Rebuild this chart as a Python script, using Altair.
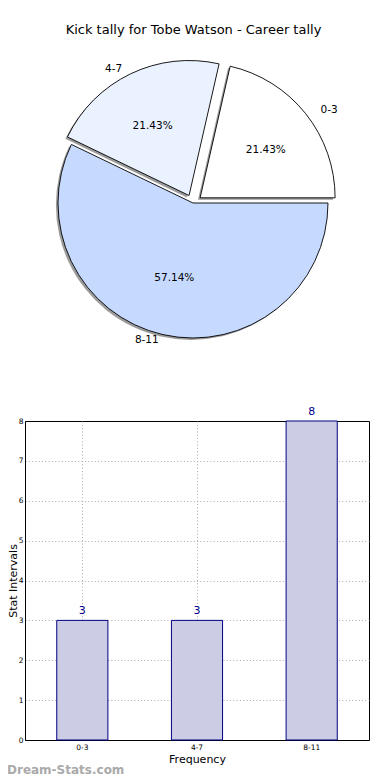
import math
import altair as alt
import pandas as pd

# ---- data ----
categories = ["0-3", "4-7", "8-11"]
counts = [3, 3, 8]
title_text = "Kick tally for Tobe Watson - Career tally"
watermark = ["Dream-Stats.com"]

# ---- style ----
explode = [0.065, 0.065, 0.0]
pie_colors = ["#FFFFFF", "#EBF2FF", "#C6DAFF"]
FONT = "DejaVu Sans"

total = sum(counts)
rows = []
cum = 0
for c, v, e in zip(categories, counts, explode):
    start, end = cum, cum + v
    cum = end
    mid = 2 * math.pi * (start + end) / 2 / total
    cx, cy = e * math.cos(mid), e * math.sin(mid)
    rows.append(dict(
        cat=c, value=v, start=start, end=end,
        cx=cx, cy=cy, sx=cx - 0.015, sy=cy - 0.015,
        lx=cx + 1.1 * math.cos(mid), ly=cy + 1.1 * math.sin(mid),
        px=cx + 0.6 * math.cos(mid), py=cy + 0.6 * math.sin(mid),
        pct=f"{100 * v / total:.2f}%",
        side="left" if math.cos(mid) > 0 else "right",
    ))
pie_df = pd.DataFrame(rows)

PLOT_LEFT = 26  # page x of the plot areas' left edge
PIE_W, PIE_H = 346, 310
xs = alt.Scale(domain=[-(194 - PLOT_LEFT) / 140, (PLOT_LEFT + PIE_W - 194) / 140], nice=False, zero=False)
ys = alt.Scale(domain=[-1.1484, 1.2734], nice=False, zero=False)
ts = alt.Scale(domain=[0, total], range=[math.pi / 2, math.pi / 2 - 2 * math.pi])

base = alt.Chart(pie_df)
theta = alt.Theta("start:Q", scale=ts)
shadow = base.mark_arc(radius=135, color="#7a7a7a", opacity=0.75).encode(
    x=alt.X("sx:Q", scale=xs, axis=None),
    y=alt.Y("sy:Q", scale=ys, axis=None),
    theta=theta, theta2="end:Q",
)
slices = base.mark_arc(radius=135, stroke="black", strokeWidth=0.9).encode(
    x=alt.X("cx:Q", scale=xs, axis=None),
    y=alt.Y("cy:Q", scale=ys, axis=None),
    theta=theta, theta2="end:Q",
    color=alt.Color("cat:N", scale=alt.Scale(domain=categories, range=pie_colors), legend=None),
)
lab_l = base.transform_filter(alt.datum.side == "left").mark_text(
    align="left", baseline="middle", fontSize=10.5, font=FONT, color="black"
).encode(x=alt.X("lx:Q", scale=xs, axis=None), y=alt.Y("ly:Q", scale=ys, axis=None), text="cat:N")
lab_r = base.transform_filter(alt.datum.side == "right").mark_text(
    align="right", baseline="middle", fontSize=10.5, font=FONT, color="black"
).encode(x=alt.X("lx:Q", scale=xs, axis=None), y=alt.Y("ly:Q", scale=ys, axis=None), text="cat:N")
pcts = base.mark_text(align="center", baseline="middle", fontSize=10.5, font=FONT, color="black").encode(
    x=alt.X("px:Q", scale=xs, axis=None), y=alt.Y("py:Q", scale=ys, axis=None), text="pct:N"
)

pie = alt.layer(shadow, slices, lab_l, lab_r, pcts).properties(
    width=PIE_W, height=PIE_H,
    title=alt.TitleParams(title_text, fontSize=13, font=FONT, fontWeight="normal",
                          anchor="middle", baseline="bottom", offset=-10,
                          dx=194.5 - (PLOT_LEFT + PIE_W / 2), color="black"),
)

# ---- bar chart ----
BAR_W, BAR_H = 370 - PLOT_LEFT, 319
bar_df = pd.DataFrame({"cat": categories, "count": counts})
xenc = alt.X("cat:N", sort=categories,
             scale=alt.Scale(paddingInner=0.554, paddingOuter=0.277),
             axis=alt.Axis(title="Frequency", labelAngle=0, grid=True, ticks=False,
                           labelFontSize=7.5, labelPadding=3, titleFontSize=11,
                           titlePadding=3, titleFontWeight="normal"))
yenc = alt.Y("count:Q", scale=alt.Scale(domain=[0, max(counts)], nice=False),
             axis=alt.Axis(title="Stat Intervals", values=list(range(max(counts) + 1)),
                           grid=True, ticks=False, labelFontSize=7.5, labelPadding=2,
                           labelOverlap=False, titleFontSize=11, titlePadding=0,
                           titleFontWeight="normal",
                           gridOpacity={"condition": {"test": f"datum.value >= {max(counts)}", "value": 0},
                                        "value": 1}))
bars = alt.Chart(bar_df).mark_bar(fill="#CCCCE5", stroke="#000080", strokeWidth=1).encode(x=xenc, y=yenc)
vals = alt.Chart(bar_df).mark_text(dy=-9, color="#00008B", fontSize=11, font=FONT).encode(
    x=xenc, y=yenc, text="count:Q"
)
wm = alt.Chart(pd.DataFrame({"t": watermark})).mark_text(
    align="left", baseline="middle", fontSize=12, font=FONT, fontWeight="bold", color="#aaaaaa"
).encode(x=alt.value(-18), y=alt.value(BAR_H + 30), text="t:N")

barchart = alt.layer(bars, vals, wm).properties(
    width=BAR_W, height=BAR_H, view=alt.ViewBackground(stroke="black", strokeWidth=1)
)

chart = alt.vconcat(pie, barchart, spacing=71, bounds="flush").configure(
    padding={"top": 15, "left": -2, "right": 0, "bottom": 0}, font=FONT
).configure_view(stroke="transparent").configure_axis(
    gridDash=[1, 2.3], gridColor="#aaaaaa", gridWidth=1, domainColor="black",
    labelColor="black", titleColor="black", labelFont=FONT, titleFont=FONT, zindex=1
)

chart.save("out.html", embed_options={"renderer": "svg", "actions": False})
